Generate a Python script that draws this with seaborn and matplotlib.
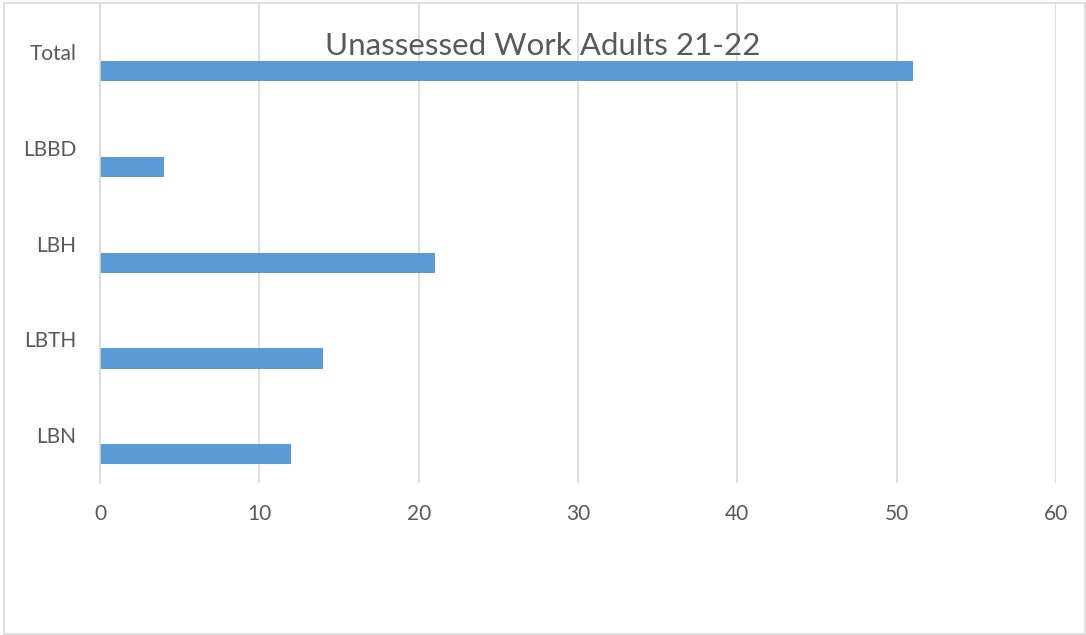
import numpy as np
import pandas as pd
import matplotlib
matplotlib.use("Agg")
import matplotlib.pyplot as plt
import seaborn as sns
from matplotlib.patches import Rectangle

categories = ["Total", "LBBD", "LBH", "LBTH", "LBN"]
values = [51, 4, 21, 14, 12]
x_ticks = [0, 10, 20, 30, 40, 50, 60]
title = "Unassessed Work Adults 21-22"

sns.set_theme(style="white")
plt.rcParams['font.family'] = ['Lato', 'DejaVu Sans']

TEXT = "#595959"
GRID = "#D9D9D9"
BAR = "#5B9BD5"

df = pd.DataFrame({
    "category": categories * 2,
    "series": ["blank"] * len(categories) + ["value"] * len(categories),
    "count": [np.nan] * len(categories) + values,
})

fig = plt.figure(figsize=(10.86, 6.35), dpi=100)
ax = fig.add_axes([100 / 1086, 1 - 483 / 635, (1056 - 100) / 1086, (483 - 4) / 635])

sns.barplot(data=df, y="category", x="count", hue="series",
            hue_order=["blank", "value"], order=categories,
            palette={"blank": BAR, "value": BAR}, orient="h",
            width=0.8, dodge=True, gap=0.475, legend=False,
            saturation=1, edgecolor="none", ax=ax, errorbar=None)

ax.set_xlim(0, 60)
ax.set_xticks(x_ticks)
ax.set_xticklabels([str(t) for t in x_ticks])
ax.set_xlabel("")
ax.set_ylabel("")
ax.grid(axis="x", color=GRID, linewidth=1.2)
ax.grid(axis="y", visible=False)
ax.set_axisbelow(True)
for s in ["top", "right", "bottom"]:
    ax.spines[s].set_visible(False)
ax.spines["left"].set_color(GRID)
ax.spines["left"].set_linewidth(1.2)
ax.tick_params(axis="x", length=0, pad=15, labelsize=15, labelcolor=TEXT)
ax.tick_params(axis="y", length=0, pad=17, labelsize=15, labelcolor=TEXT)

fig.text(0.5, 1 - 46 / 635, title, ha="center", va="center",
         fontsize=22.5, color=TEXT)

fig.patches.append(Rectangle((4 / 1086, 1 / 635), 1081 / 1086, 631 / 635,
                             transform=fig.transFigure, fill=False,
                             edgecolor=GRID, linewidth=1.2))

fig.savefig("out.png", dpi=100)
